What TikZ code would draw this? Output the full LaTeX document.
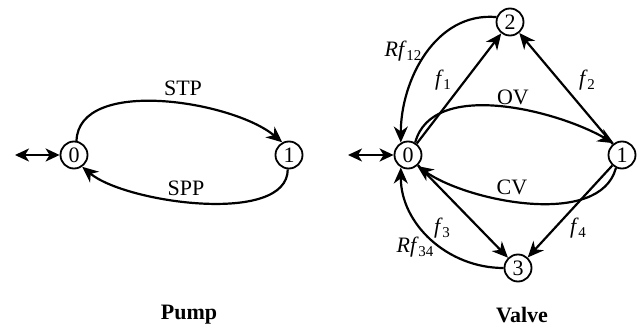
\documentclass[tikz,border=0pt]{standalone}
\usepackage{fontspec}
\setmainfont{Liberation Serif}
\usetikzlibrary{arrows.meta,positioning}
\newcommand{\rate}[2]{\textit{#1}\kern-0.5pt\raisebox{-0.45ex}{\fontsize{15}{15}\selectfont #2}}

\begin{document}
\begin{tikzpicture}[x=1pt, y=1pt,
    state/.style={circle, draw, line width=1.8pt, minimum size=27pt, inner sep=0pt,
      font=\fontsize{22}{24}\selectfont},
    trans/.style={line width=2.2pt, -{Stealth[length=16pt, width=14pt, inset=5pt]}},
    both/.style={line width=2.2pt, {Stealth[length=14pt, width=13pt, inset=4pt]}-{Stealth[length=14pt, width=13pt, inset=4pt]}},
    lbl/.style={font=\fontsize{22}{24}\selectfont, inner sep=0pt},
    title/.style={font=\fontsize{22}{24}\selectfont\bfseries, inner sep=0pt}]
  \useasboundingbox (0,0) rectangle (638,330);

  % pump
  \node[state] (p0) at (74,175) {0};
  \node[state] (p1) at (289,175) {1};
  \coordinate (pin) at (15,175);
  \draw[both] (pin) -- (p0);
  \draw[trans] (p0.80) to[out=88, in=140, looseness=0.8] (p1.118);
  \draw[trans] (p1.-95) to[out=-90, in=-40, looseness=0.7] (p0.-55);
  \node[lbl] (stp) at (183,242) {STP};
  \node[lbl] (spp) at (186,142) {SPP};
  \node[title] (pump) at (189,15) {Pump};

  % valve
  \node[state] (v0) at (408,175) {0};
  \node[state] (v1) at (622,175) {1};
  \node[state] (v2) at (510,308) {2};
  \node[state] (v3) at (518,62) {3};
  \coordinate (vin) at (348,175);
  \draw[both] (vin) -- (v0);
  \draw[trans] (v0.60) to[out=75, in=150, looseness=0.85] (v1.125);
  \draw[trans] (v1.-115) to[out=-105, in=-35, looseness=0.8] (v0.-50);
  \draw[trans] (v0) -- (v2);
  \draw[trans] (v1) -- (v2);
  \draw[trans] (v0) -- (v3);
  \draw[trans] (v1) -- (v3);
  \draw[trans] (v2.160) to[out=175, in=90] (v0.120);
  \draw[trans] (v3.west) to[out=180, in=-90] (v0.-120);
  \node[lbl] (ov) at (513,233) {OV};
  \node[lbl] (cv) at (512,143) {CV};
  \node[lbl] (f1) at (443,250) {\rate{f}{1}};
  \node[lbl] (f2) at (587,250) {\rate{f}{2}};
  \node[lbl] (f3) at (442,102) {\rate{f}{3}};
  \node[lbl] (f4) at (578,102) {\rate{f}{4}};
  \node[lbl] (rf12) at (403,279) {\rate{Rf}{12}};
  \node[lbl] (rf34) at (415,83) {\rate{Rf}{34}};
  \node[title] (valve) at (522,15) {Valve};
\end{tikzpicture}
\end{document}
